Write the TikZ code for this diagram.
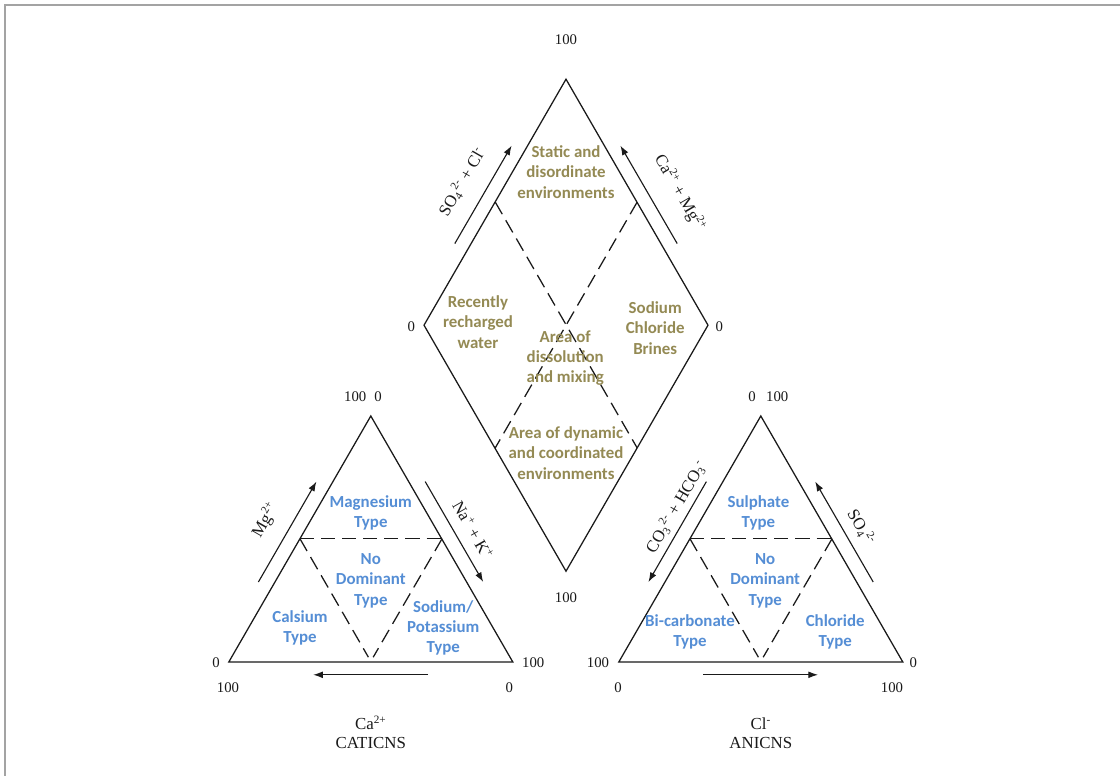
\documentclass[tikz,border=0pt]{standalone}
\usepackage{fontspec}
\setmainfont{Liberation Serif}
\newfontfamily\zonefont{Carlito}
\usepackage{tikz}
\usetikzlibrary{arrows.meta}
\definecolor{PDFrame}{HTML}{A3A3A3}
\definecolor{PDInk}{HTML}{1A1A1A}
\definecolor{PDOlive}{HTML}{948A54}
\definecolor{PDBlue}{HTML}{558ED5}

\begin{document}
\begin{tikzpicture}[x=1cm,y=1cm,
  edge/.style={PDInk,line width=.9pt,line join=miter},
  split/.style={PDInk,line width=.9pt,dash pattern=on 10pt off 5pt},
  flow/.style={PDInk,line width=.8pt,-{Latex[length=2.4mm,width=1.7mm]}},
  tick/.style={PDInk,inner sep=0pt,font=\fontsize{10.5}{12}\selectfont},
  ion/.style={PDInk,inner sep=0pt,font=\fontsize{12}{14}\selectfont},
  zone/.style={PDOlive,align=center,inner sep=0pt,font=\zonefont\bfseries\fontsize{12}{14.5}\selectfont},
  wtype/.style={PDBlue,align=center,inner sep=0pt,font=\zonefont\bfseries\fontsize{12}{14.5}\selectfont}]
\path[use as bounding box] (0,0) rectangle (28.00,19.40);
\fill[white] (0,0) rectangle (28.00,19.40);
\draw[PDFrame,line width=1.4pt] (0.13,0) -- (0.13,19.27) -- (28.00,19.27);

\coordinate (catL) at (5.72,2.85);
\coordinate (catR) at (12.82,2.85);
\coordinate (catT) at (9.27,9.00);
\coordinate (catML) at (7.50,5.93);
\coordinate (catMR) at (11.05,5.93);
\coordinate (catBL) at (9.21,2.97);
\coordinate (catBR) at (9.33,2.97);
\draw[edge] (catL) -- (catR) -- (catT) -- cycle;
\draw[split] (catML) -- (catMR);
\draw[split] (catML) -- (catBL);
\draw[split] (catMR) -- (catBR);

\coordinate (anL) at (15.47,2.85);
\coordinate (anR) at (22.57,2.85);
\coordinate (anT) at (19.02,9.00);
\coordinate (anML) at (17.25,5.93);
\coordinate (anMR) at (20.80,5.93);
\coordinate (anBL) at (18.96,2.97);
\coordinate (anBR) at (19.08,2.97);
\draw[edge] (anL) -- (anR) -- (anT) -- cycle;
\draw[split] (anML) -- (anMR);
\draw[split] (anML) -- (anBL);
\draw[split] (anMR) -- (anBR);

\coordinate (dmT) at (14.15,17.42);
\coordinate (dmL) at (10.60,11.27);
\coordinate (dmR) at (17.70,11.27);
\coordinate (dmB) at (14.15,5.12);
\coordinate (dmUL) at (12.38,14.35);
\coordinate (dmUR) at (15.93,14.35);
\coordinate (dmLL) at (12.38,8.20);
\coordinate (dmLR) at (15.93,8.20);
\draw[edge] (dmT) -- (dmR) -- (dmB) -- (dmL) -- cycle;
\draw[split] (dmUL) -- (dmLR);
\draw[split] (dmUR) -- (dmLL);

\coordinate (mgA) at (6.46,4.85);
\coordinate (mgB) at (7.91,7.36);
\coordinate (naA) at (10.63,7.36);
\coordinate (naB) at (12.08,4.85);
\coordinate (caA) at (10.70,2.53);
\coordinate (caB) at (7.83,2.53);
\draw[flow] (mgA) -- (mgB);
\draw[flow] (naA) -- (naB);
\draw[flow] (caA) -- (caB);

\coordinate (coA) at (17.66,7.36);
\coordinate (coB) at (16.21,4.85);
\coordinate (soA) at (21.83,4.85);
\coordinate (soB) at (20.38,7.36);
\coordinate (clA) at (17.58,2.53);
\coordinate (clB) at (20.45,2.53);
\draw[flow] (coA) -- (coB);
\draw[flow] (soA) -- (soB);
\draw[flow] (clA) -- (clB);

\coordinate (saA) at (11.37,13.31);
\coordinate (saB) at (12.79,15.76);
\coordinate (cmA) at (16.93,13.31);
\coordinate (cmB) at (15.51,15.76);
\draw[flow] (saA) -- (saB);
\draw[flow] (cmA) -- (cmB);

\node[tick] (dmTop) at (14.15,18.40) {100};
\node[tick] (dmLeft) at (10.28,11.23) {0};
\node[tick] (dmRight) at (17.98,11.23) {0};
\node[tick] (dmBot) at (14.15,4.45) {100};
\node[tick] (catTopA) at (8.88,9.48) {100};
\node[tick] (catTopB) at (9.45,9.48) {0};
\node[tick] (catLeftA) at (5.40,2.83) {0};
\node[tick] (catLeftB) at (5.70,2.20) {100};
\node[tick] (catRightA) at (13.33,2.83) {100};
\node[tick] (catRightB) at (12.73,2.20) {0};
\node[tick] (anTopA) at (18.80,9.48) {0};
\node[tick] (anTopB) at (19.43,9.48) {100};
\node[tick] (anLeftA) at (14.95,2.83) {100};
\node[tick] (anLeftB) at (15.45,2.20) {0};
\node[tick] (anRightA) at (22.83,2.83) {0};
\node[tick] (anRightB) at (22.30,2.20) {100};

\node[ion,rotate=60] (mgLab) at (6.63,6.40) {Mg\textsuperscript{2+}};
\node[ion,rotate=-60] (naLab) at (11.83,6.15) {Na\textsuperscript{+} + K\textsuperscript{+}};
\node[ion,rotate=60] (coLab) at (16.90,6.73) {CO\textsubscript{3}\textsuperscript{2-} + HCO\textsubscript{3}\textsuperscript{-}};
\node[ion,rotate=-60] (soLab) at (21.53,6.23) {SO\textsubscript{4}\textsuperscript{2-}};
\node[ion,rotate=60] (saLab) at (11.55,14.85) {SO\textsubscript{4}\textsuperscript{2-} + Cl\textsuperscript{-}};
\node[ion,rotate=-60] (cmLab) at (17.00,14.58) {Ca\textsuperscript{2+} + Mg\textsuperscript{2+}};
\node[ion,anchor=base] (caLab) at (9.27,1.15) {Ca\textsuperscript{2+}};
\node[ion,anchor=base] (catName) at (9.27,0.68) {CATICNS};
\node[ion,anchor=base] (clLab) at (19.02,1.15) {Cl\textsuperscript{-}};
\node[ion,anchor=base] (anName) at (19.02,0.68) {ANICNS};

\node[zone] (static) at (14.15,15.10) {Static and\\disordinate\\environments};
\node[zone] (recent) at (11.95,11.35) {Recently\\recharged\\water};
\node[zone] (brine) at (16.38,11.20) {Sodium\\Chloride\\Brines};
\node[zone] (mixing) at (14.13,10.45) {Area of\\dissolution\\and mixing};
\node[zone] (dynamic) at (14.15,8.08) {Area of dynamic\\and coordinated\\environments};

\node[wtype] (magnes) at (9.27,6.58) {Magnesium\\Type};
\node[wtype] (catNone) at (9.27,4.88) {No\\Dominant\\Type};
\node[wtype] (calsium) at (7.50,3.70) {Calsium\\Type};
\node[wtype] (sodium) at (11.08,3.70) {Sodium/\\Potassium\\Type};
\node[wtype] (sulph) at (18.96,6.58) {Sulphate\\Type};
\node[wtype] (anNone) at (19.13,4.88) {No\\Dominant\\Type};
\node[wtype] (bicarb) at (17.25,3.60) {Bi-carbonate\\Type};
\node[wtype] (chlor) at (20.88,3.60) {Chloride\\Type};
\end{tikzpicture}
\end{document}
